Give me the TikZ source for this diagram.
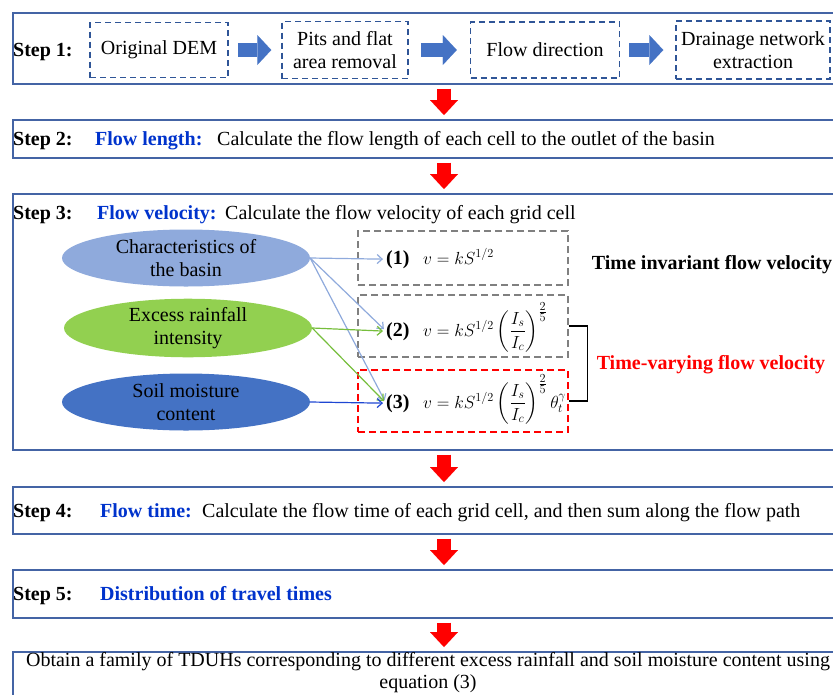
\RequirePackage{fix-cm}
\documentclass[tikz,border=0pt]{standalone}
\usepackage{fontspec}
\setmainfont{Liberation Serif}
\usepackage{amsmath}
\usetikzlibrary{shapes.geometric,arrows.meta,calc}
\definecolor{boxblue}{RGB}{68,100,165}
\definecolor{dashblue}{RGB}{47,85,151}
\definecolor{blockblue}{RGB}{68,114,196}
\definecolor{titleblue}{RGB}{0,51,204}
\definecolor{ellA}{RGB}{143,170,220}
\definecolor{ellB}{RGB}{146,208,80}
\definecolor{ellC}{RGB}{68,114,196}
\definecolor{arrA}{RGB}{143,170,220}
\definecolor{arrB}{RGB}{118,190,60}
\definecolor{arrC}{RGB}{30,70,210}
\definecolor{gbox}{RGB}{128,128,128}
\begin{document}
\begin{tikzpicture}[x=1pt,y=-1pt,
  font=\fontsize{20}{23}\selectfont,
  stepbox/.style={draw=boxblue, line width=1.6pt, anchor=north west, minimum width=830pt, inner sep=0pt},
  dbox/.style={draw=dashblue, line width=1.5pt, dash pattern=on 6pt off 4pt, align=center, inner sep=0pt},
  fbox/.style={line width=1.3pt, dash pattern=on 7pt off 4pt, minimum width=210pt, inner sep=0pt},
  ell/.style={ellipse, minimum width=248pt, minimum height=57pt, inner sep=0pt, align=center, draw=none},
  txt/.style={anchor=base west, inner sep=0pt},
  ctxt/.style={anchor=base, inner sep=0pt},
  formula/.style={anchor=base west, inner sep=0pt, font=\fontsize{17.5}{20}\selectfont},
  blockarrow/.style={draw=blockblue, line width=14pt, -{Triangle[length=14pt,width=30pt,line width=0.01pt]}},
  redarrow/.style={draw=red, line width=14pt, -{Triangle[length=15pt,width=28pt,line width=0.01pt]}, shorten <=4pt, shorten >=4pt},
  thinarrow/.style={line width=1.2pt, -{Straight Barb[length=5pt,width=9pt]}, shorten >=3pt}
]
\useasboundingbox (0,0) rectangle (833,694);
\clip (0,0) rectangle (833,694);

% step boxes
\node[stepbox, minimum height=71pt] (s1) at (12,12) {};
\node[stepbox, minimum height=38pt] (s2) at (12,119) {};
\node[stepbox, minimum height=256pt] (s3) at (12,193) {};
\node[stepbox, minimum height=47pt] (s4) at (12,486) {};
\node[stepbox, minimum height=48pt] (s5) at (12,569) {};
\node[stepbox, minimum height=60pt] (s6) at (12,651) {};

% red arrows
\coordinate (ax) at (444,0);
\draw[redarrow] (s1.south -| ax) -- (s2.north -| ax);
\draw[redarrow] (s2.south -| ax) -- (s3.north -| ax);
\draw[redarrow] (s3.south -| ax) -- (s4.north -| ax);
\draw[redarrow] (s4.south -| ax) -- (s5.north -| ax);
\draw[redarrow] (s5.south -| ax) -- (s6.north -| ax);

% step 1
\node[txt] (t1) at (13,56) {\textbf{Step 1:}};
\node[dbox, minimum width=138pt, minimum height=55pt] (b1) at (159,50) {Original DEM};
\node[dbox, minimum width=126pt, minimum height=57pt] (b2) at (345,50) {Pits and flat\\area removal};
\node[dbox, minimum width=149pt, minimum height=56pt] (b3) at (545,50) {Flow direction};
\node[dbox, minimum width=154pt, minimum height=58pt] (b4) at (753,50) {Drainage network\\extraction};
\draw[blockarrow, shorten <=9pt, shorten >=10pt] (b1.east) -- (b2.west);
\draw[blockarrow, shorten <=12pt, shorten >=13pt] (b2.east) -- (b3.west);
\draw[blockarrow, shorten <=9pt, shorten >=12pt] (b3.east) -- (b4.west);

% step 2
\node[txt] (t2) at (13,145) {\textbf{Step 2:}};
\node[txt, text=titleblue] (t2a) at (95,145) {\textbf{Flow length:}};
\node[txt] (t2b) at (217,145) {Calculate the flow length of each cell to the outlet of the basin};

% step 3
\node[txt] (t3) at (13,219) {\textbf{Step 3:}};
\node[txt, text=titleblue] (t3a) at (97,219) {\textbf{Flow velocity:}};
\node[txt] (t3b) at (225,219) {Calculate the flow velocity of each grid cell};

\node[ell, fill=ellA] (e1) at (186,258) {Characteristics of\\the basin};
\node[ell, fill=ellB] (e2) at (188,328) {Excess rainfall\\intensity};
\node[ell, fill=ellC] (e3) at (186,402) {Soil moisture\\content};

\node[fbox, draw=gbox, minimum height=54pt] (g1) at (463,258) {};
\node[fbox, draw=gbox, minimum height=62pt] (g2) at (463,326) {};
\node[fbox, draw=red, minimum height=62pt] (g3) at (463,401) {};

\node[txt] (l1) at (386,264) {\textbf{(1)}};
\node[txt] (l2) at (386,336) {\textbf{(2)}};
\node[txt] (l3) at (386,408) {\textbf{(3)}};
\node[formula] (f1) at (423,264) {$v = kS^{1/2}$};
\node[formula] (f2) at (423,336) {$v = kS^{1/2}\left(\dfrac{I_s}{I_c}\right)^{\frac{\scriptstyle 2}{\scriptstyle 5}}$};
\node[formula] (f3) at (423,408) {$v = kS^{1/2}\left(\dfrac{I_s}{I_c}\right)^{\frac{\scriptstyle 2}{\scriptstyle 5}}\theta_t^{\gamma}$};

\draw[thinarrow, draw=arrA] (e1.east) -- (l1.west);
\draw[thinarrow, draw=arrA] (e1.east) -- (l2.west);
\draw[thinarrow, draw=arrA] (e1.east) -- (l3.west);
\draw[thinarrow, draw=arrB] (e2.east) -- (l2.west);
\draw[thinarrow, draw=arrB] (e2.east) -- (l3.west);
\draw[thinarrow, draw=arrC] (e3.east) -- (l3.west);

\draw[line width=1.5pt] (g2.east) -- ++(19,0) |- (g3.east);
\node[ctxt] (ti) at (712,269) {\textbf{Time invariant flow velocity}};
\node[ctxt, text=red] (tv) at (711,369) {\textbf{Time-varying flow velocity}};

% step 4
\node[txt] (t4) at (13,517) {\textbf{Step 4:}};
\node[txt, text=titleblue] (t4a) at (100,517) {\textbf{Flow time:}};
\node[txt] (t4b) at (202,517) {Calculate the flow time of each grid cell, and then sum along the flow path};

% step 5
\node[txt] (t5) at (13,600) {\textbf{Step 5:}};
\node[txt, text=titleblue] (t5a) at (100,600) {\textbf{Distribution of travel times}};

% final
\node[ctxt] (t6) at (428,666) {Obtain a family of TDUHs corresponding to different excess rainfall and soil moisture content using};
\node[ctxt] (t6b) at (428,688) {equation (3)};
\end{tikzpicture}
\end{document}
